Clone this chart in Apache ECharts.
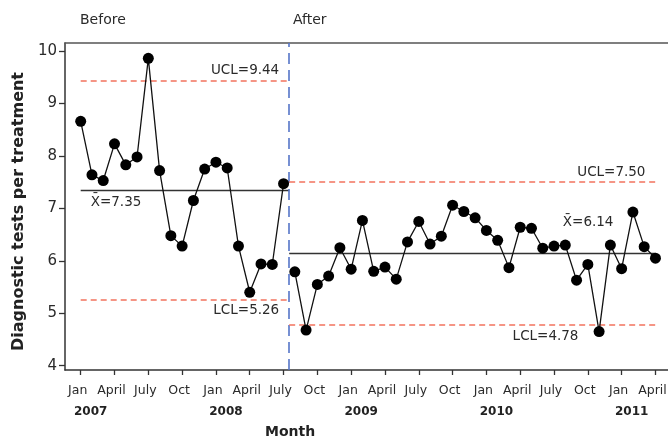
<!DOCTYPE html>
<html>
<head>
<meta charset="utf-8">
<script src="https://cdn.jsdelivr.net/npm/echarts@6/dist/echarts.min.js"></script>
<style>
  html, body { margin: 0; padding: 0; background: #fff; }
  #chart { width: 668px; height: 440px; }
</style>
</head>
<body>
<div id="chart"></div>
<script>
// month index 0 = Jan 2007
const monthNames = ["Jan", "Feb", "Mar", "April", "May", "June", "July", "Aug", "Sept", "Oct", "Nov", "Dec"];
const monthTicks = [0, 3, 6, 9, 12, 15, 18, 21, 24, 27, 30, 33, 36, 39, 42, 45, 48, 51];
const yearTicks = [0, 12, 24, 36, 48];
const yearLabels = ["2007", "2008", "2009", "2010", "2011"];
const yTicks = [4, 5, 6, 7, 8, 9, 10];

// Jan 2007 .. July 2008
const beforeStart = 0;
const beforeValues = [
  8.66, 7.64, 7.53, 8.23, 7.83, 7.98, 9.86, 7.72, 6.48, 6.28,
  7.15, 7.75, 7.88, 7.77, 6.28, 5.40, 5.94, 5.93, 7.47
];
// Aug 2008 .. April 2011
const afterStart = 19;
const afterValues = [
  5.79, 4.68, 5.55, 5.71, 6.25, 5.84, 6.77, 5.80, 5.88, 5.65,
  6.36, 6.75, 6.32, 6.47, 7.06, 6.94, 6.82, 6.58, 6.39, 5.87,
  6.64, 6.62, 6.24, 6.28, 6.30, 5.63, 5.93, 4.65, 6.30, 5.85,
  6.93, 6.27, 6.05
];

const phaseSplit = 18.5;
const limitNames = ["UCL", "X\u0304", "LCL"];
const beforeLimits = [9.44, 7.35, 5.26];
const afterLimits = [7.50, 6.14, 4.78];

const RED = "#f2735e";
const TXT = "#2a2a2a";

const chart = echarts.init(document.getElementById("chart"));

const toPoints = (vals, start) => vals.map((v, i) => [start + i, v]);

// one horizontal segment per limit
const limitLines = (limits, x0, x1, labelCfg) =>
  limits.map((v, k) => [
    {
      coord: [x0, v],
      lineStyle: k === 1
        ? { color: "#333", type: "solid", width: 1.3 }
        : { color: RED, type: [6, 4], width: 1.5 },
      label: Object.assign({
        show: true,
        formatter: limitNames[k] + "=" + v.toFixed(2),
        color: TXT,
        fontSize: 13.5,
        fontFamily: "DejaVu Sans"
      }, labelCfg[k])
    },
    { coord: [x1, v] }
  ]);

const lastIdx = afterStart + afterValues.length - 1;

// plot runs off the right edge of the picture, as in the source
const xMin = -1.393, xMax = 52.38;

const option = {
  animation: false,
  grid: {
    left: 65, width: 606, top: 43, bottom: 70,
    outerBoundsMode: "none",
    containLabel: false
  },
  xAxis: [
    {
      type: "value",
      min: xMin, max: xMax,
      axisLine: { show: true, onZero: false, lineStyle: { color: "#333", width: 1.5 } },
      axisTick: { show: true, customValues: monthTicks, length: 5, lineStyle: { color: "#333", width: 1.3 } },
      axisLabel: {
        customValues: monthTicks,
        formatter: (v) => monthNames[v % 12],
        color: TXT, fontSize: 12.5, fontFamily: "DejaVu Sans",
        margin: 14, padding: [0, 6, 0, 0]
      },
      splitLine: { show: false }
    },
    {
      type: "value",
      position: "bottom",
      min: xMin, max: xMax,
      axisLine: { show: false, onZero: false },
      axisTick: { show: false },
      axisLabel: {
        customValues: yearTicks,
        formatter: (v) => yearLabels[yearTicks.indexOf(v)],
        color: "#222", fontSize: 12, fontWeight: "bold", fontFamily: "DejaVu Sans",
        margin: 36, padding: [0, 0, 0, 20]
      },
      splitLine: { show: false }
    },
    {
      // top frame line only
      type: "value",
      position: "top",
      min: xMin, max: xMax,
      axisLine: { show: true, onZero: false, lineStyle: { color: "#555", width: 1.5 } },
      axisTick: { show: false },
      axisLabel: { show: false },
      splitLine: { show: false }
    }
  ],
  yAxis: {
    type: "value",
    min: 3.918, max: 10.153,
    name: "Diagnostic tests per treatment",
    nameLocation: "middle",
    nameGap: 34,
    nameTextStyle: { color: "#222", fontSize: 16, fontWeight: "bold", fontFamily: "DejaVu Sans", padding: [0, 10, 0, 0] },
    axisLine: { show: true, onZero: false, lineStyle: { color: "#333", width: 1.5 } },
    axisTick: { show: true, customValues: yTicks, length: 6, lineStyle: { color: "#333", width: 1.3 } },
    axisLabel: {
      customValues: yTicks,
      color: TXT, fontSize: 15, fontFamily: "DejaVu Sans", margin: 8
    },
    splitLine: { show: false }
  },
  graphic: [
    { type: "text", left: 80, top: 13, style: { text: "Before", fill: TXT, fontSize: 14, fontFamily: "DejaVu Sans" } },
    { type: "text", left: 293, top: 13, style: { text: "After", fill: TXT, fontSize: 14, fontFamily: "DejaVu Sans" } },
    { type: "text", left: 265, top: 425, style: { text: "Month", fill: "#222", fontSize: 14, fontWeight: "bold", fontFamily: "DejaVu Sans" } }
  ],
  series: [
    {
      name: "Before",
      type: "line",
      data: toPoints(beforeValues, beforeStart),
      symbol: "circle",
      symbolSize: 11,
      itemStyle: { color: "#000" },
      lineStyle: { color: "#111", width: 1.3 },
      z: 5,
      markLine: {
        silent: true,
        symbol: "none",
        animation: false,
        data: limitLines(beforeLimits, beforeStart, phaseSplit, [
          { position: "insideEndTop", distance: [10, 3] },
          { position: "insideStartBottom", distance: [10, 5] },
          { position: "insideEndBottom", distance: [10, 4] }
        ]).concat([
          { xAxis: phaseSplit, label: { show: false },
            lineStyle: { color: "#5575c8", type: [11, 6], width: 1.6 } }
        ])
      }
    },
    {
      name: "After",
      type: "line",
      data: toPoints(afterValues, afterStart),
      symbol: "circle",
      symbolSize: 11,
      itemStyle: { color: "#000" },
      lineStyle: { color: "#111", width: 1.3 },
      z: 5,
      markLine: {
        silent: true,
        symbol: "none",
        animation: false,
        data: limitLines(afterLimits, phaseSplit, lastIdx, [
          { position: "insideEndTop", distance: [10, 3] },
          { position: "insideEndTop", distance: [42, 24] },
          { position: "insideEndBottom", distance: [77, 5] }
        ])
      }
    }
  ]
};

chart.setOption(option);
</script>
</body>
</html>
